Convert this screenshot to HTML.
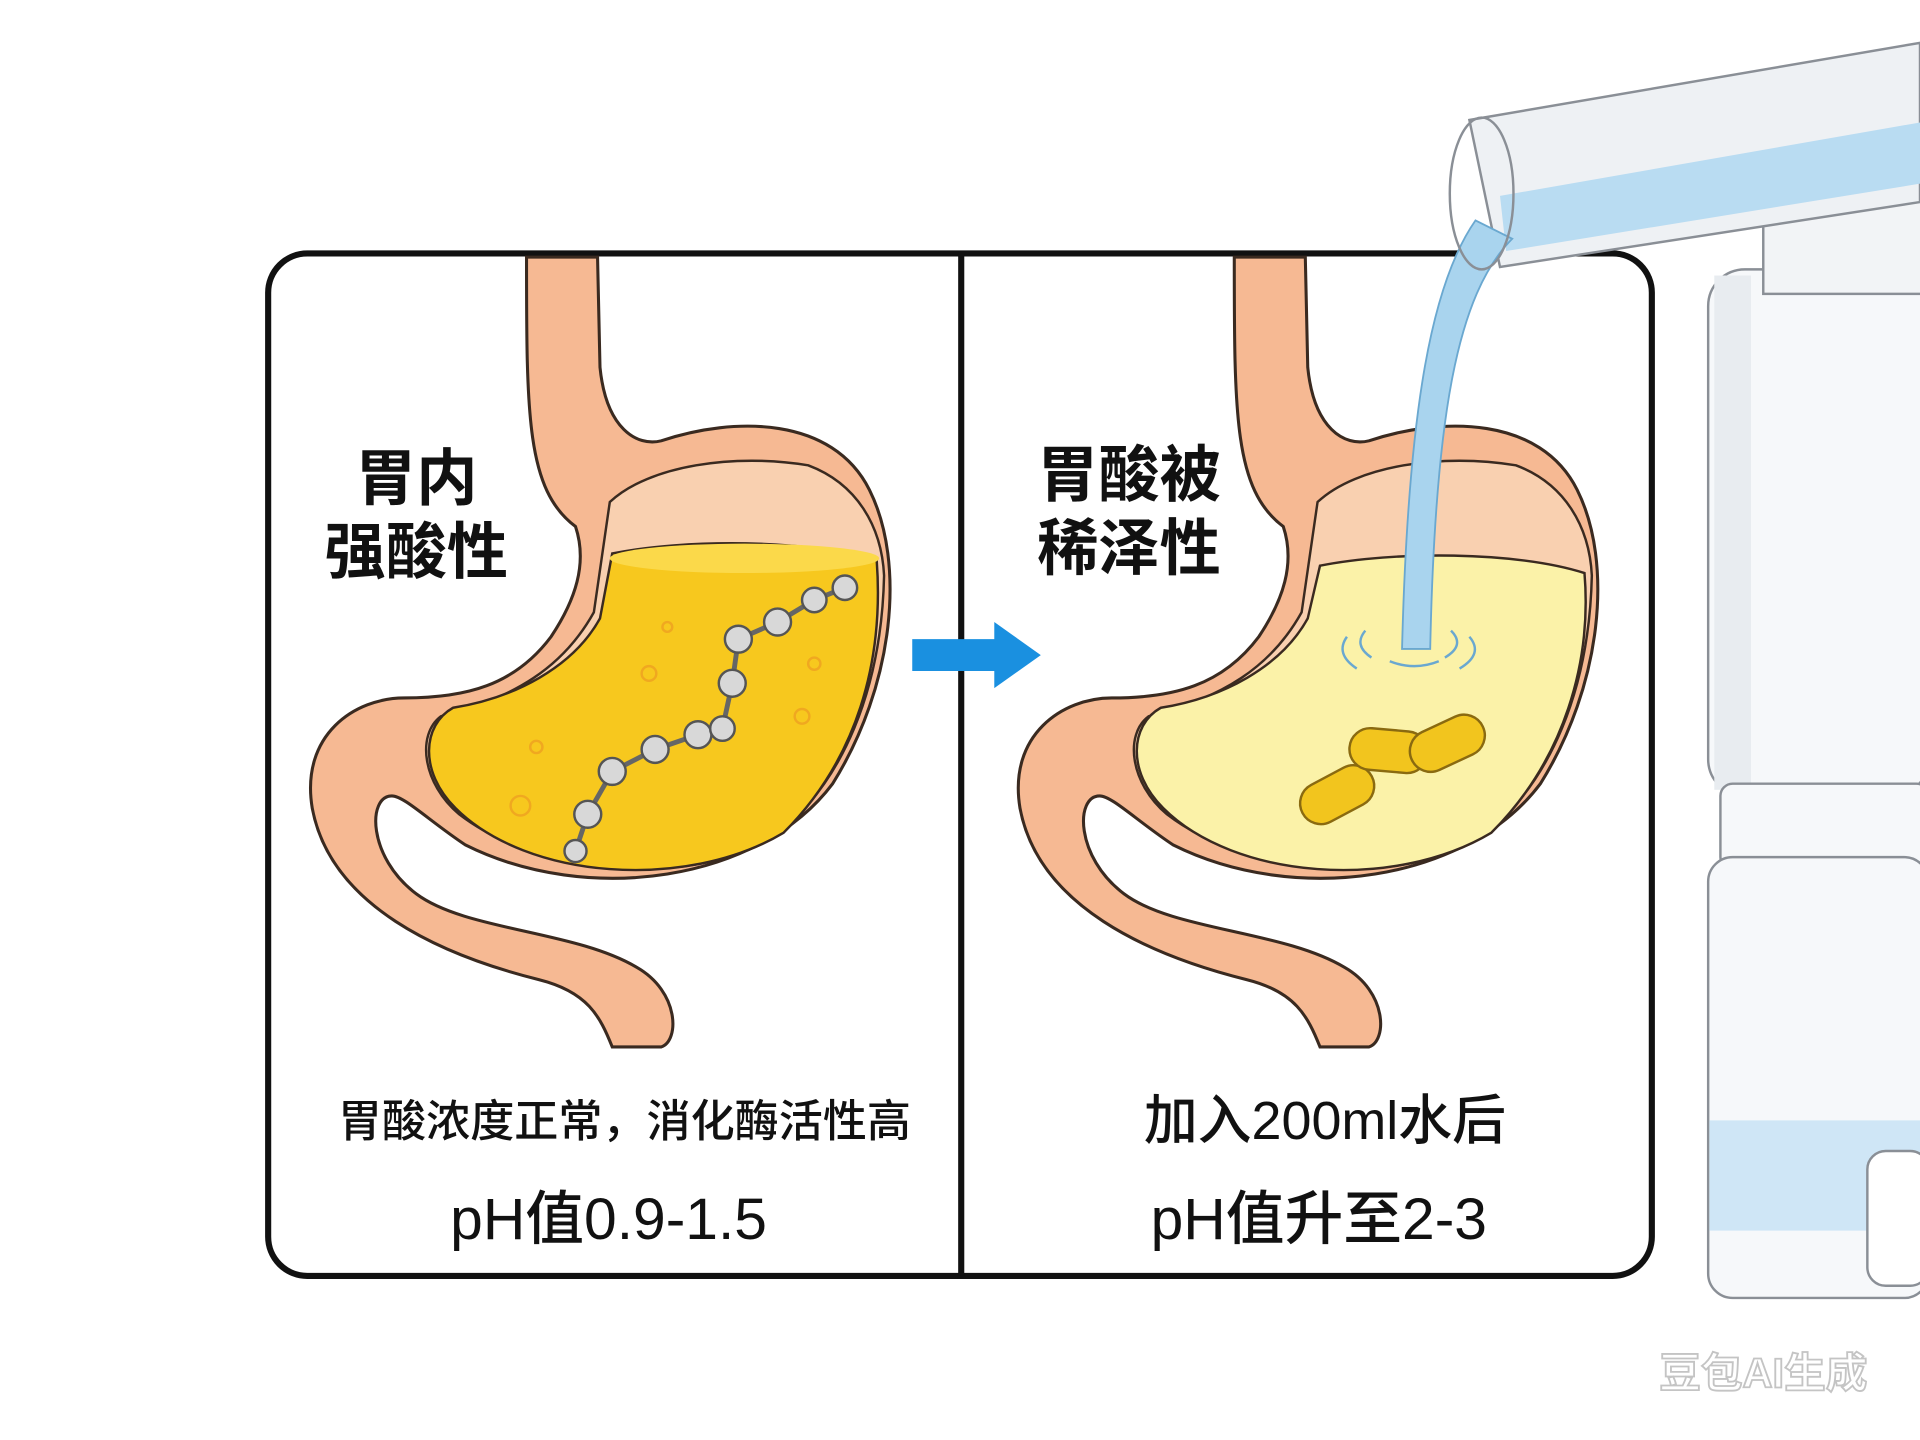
<!DOCTYPE html>
<html><head><meta charset="utf-8"><style>
html,body{margin:0;padding:0;background:#fff;width:1920px;height:1440px;overflow:hidden}
svg{display:block}
text{font-family:"Liberation Sans","Noto Sans CJK SC",sans-serif;fill:#111}
</style></head><body>
<svg width="1920" height="1440" viewBox="0 0 1568 1176" xmlns="http://www.w3.org/2000/svg">
<defs>
<g id="stom">
<path d="M430,210 L488,210 L490,300 C495,350 520,365 540,360 C600,340 680,340 710,400 C740,460 730,560 680,640 C620,720 480,740 380,690 C350,670 330,650 320,650 C300,650 300,700 340,730 C380,760 470,760 520,790 C555,810 555,850 540,855 L500,855 C490,830 480,810 440,800 C360,780 270,740 255,660 C245,600 290,570 330,570 C380,570 420,560 450,520 C470,490 480,460 470,430 C430,400 430,340 430,210 Z" fill="#f6b993" stroke="#3a2a20" stroke-width="2.5"/>
<path d="M498,410 C530,380 600,370 660,380 C700,395 720,430 722,470 C720,560 690,640 630,685 C560,725 440,715 375,665 C345,640 340,600 360,585 C420,570 460,545 485,500 Z" fill="#f9d0b0" stroke="#3a2a20" stroke-width="2"/>
</g>
</defs>
<rect x="219" y="207" width="1130" height="835" rx="32" fill="#fff" stroke="#111" stroke-width="5"/>
<line x1="785" y1="207" x2="785" y2="1042" stroke="#111" stroke-width="5"/>
<use href="#stom"/>
<path d="M500,452 C560,440 660,440 716,458 C722,540 700,620 640,680 C560,728 430,718 372,660 C342,630 345,592 370,578 C420,570 468,545 490,505 Z" fill="#f7c81e" stroke="#3a2a20" stroke-width="2"/>
<ellipse cx="608" cy="456" rx="110" ry="12" fill="#fbd94a"/>
<g fill="none" stroke="#666" stroke-width="4"><polyline points="470,695 480,665 500,630 535,612 570,600 590,595 598,558 603,522 635,508 665,490 690,480"/></g>
<g fill="#d8d8d8" stroke="#555" stroke-width="2">
<circle cx="470" cy="695" r="9"/><circle cx="480" cy="665" r="11"/><circle cx="500" cy="630" r="11"/><circle cx="535" cy="612" r="11"/><circle cx="570" cy="600" r="11"/><circle cx="590" cy="595" r="10"/><circle cx="598" cy="558" r="11"/><circle cx="603" cy="522" r="11"/><circle cx="635" cy="508" r="11"/><circle cx="665" cy="490" r="10"/><circle cx="690" cy="480" r="10"/></g>
<g fill="none" stroke="#f0a820" stroke-width="2"><circle cx="425" cy="658" r="8"/><circle cx="530" cy="550" r="6"/><circle cx="655" cy="585" r="6"/><circle cx="545" cy="512" r="4"/><circle cx="665" cy="542" r="5"/><circle cx="438" cy="610" r="5"/></g>
<use href="#stom" transform="translate(578,0)"/>
<path d="M1078,462 C1138,450 1238,450 1294,468 C1300,540 1278,620 1218,680 C1138,728 1008,718 950,660 C920,630 923,592 948,578 C998,570 1046,545 1068,505 Z" fill="#fbf2a8" stroke="#3a2a20" stroke-width="2"/>
<g fill="#f2c51e" stroke="#8a6a10" stroke-width="2">
<rect x="1060" y="632" width="64" height="34" rx="17" transform="rotate(-28 1092 649)"/>
<rect x="1102" y="596" width="64" height="34" rx="17" transform="rotate(5 1134 613)"/>
<rect x="1150" y="590" width="64" height="34" rx="17" transform="rotate(-25 1182 607)"/></g>
<g stroke="#8a8f96" stroke-width="2" fill="#f6f8fa">
<rect x="1480" y="60" width="100" height="190" fill="#eef1f4"/>
<rect x="1395" y="220" width="180" height="430" rx="30"/>
<rect x="1400" y="225" width="30" height="420" fill="#e8ecf0" stroke="none"/>
<rect x="1405" y="640" width="170" height="70" rx="10"/>
<rect x="1395" y="700" width="180" height="360" rx="20"/>
<rect x="1396" y="915" width="178" height="90" fill="#cfe6f6" stroke="none"/>
<rect x="1525" y="940" width="50" height="110" rx="15" fill="#fff"/>
<rect x="1440" y="95" width="140" height="145" fill="#f2f4f6"/>
<polygon points="1200,98 1568,35 1568,165 1225,218" fill="#eef1f4"/>
<polygon points="1225,160 1568,100 1568,150 1230,205" fill="#b9dcf2" stroke="none"/>
</g>
<path d="M1205,180 C1170,230 1150,330 1145,530 L1168,530 C1172,340 1190,240 1235,195 Z" fill="#a9d4ee" stroke="#6aa8d0" stroke-width="1.5"/>
<ellipse cx="1210" cy="158" rx="26" ry="62" fill="none" stroke="#8a8f96" stroke-width="2"/>
<g fill="none" stroke="#6aa8d0" stroke-width="2"><path d="M1115,515 q-10,12 5,22"/><path d="M1185,515 q12,12 -5,22"/><path d="M1100,520 q-10,14 8,26"/><path d="M1200,520 q12,14 -8,26"/><path d="M1135,540 q20,8 40,0"/></g>
<polygon points="745,522 812,522 812,508 850,535 812,562 812,548 745,548" fill="#1a90e0"/>
<g font-weight="bold" font-size="50" text-anchor="middle">
<text x="340" y="408">胃内</text><text x="340" y="468">强酸性</text>
<text x="922" y="405">胃酸被</text><text x="922" y="465">稀泽性</text></g>
<g font-weight="500">
<text x="510" y="928" font-size="36" text-anchor="middle">胃酸浓度正常，消化酶活性高</text>
<text x="497" y="1012" font-size="48" text-anchor="middle">pH值0.9-1.5</text>
<text x="1082" y="930" font-size="44" text-anchor="middle">加入200ml水后</text>
<text x="1077" y="1012" font-size="48" text-anchor="middle">pH值升至2-3</text>
</g>
<text x="1440" y="1133" font-size="34" font-weight="bold" text-anchor="middle" style="fill:#fff;stroke:#c4c4c4;stroke-width:1.5">豆包AI生成</text>
</svg>
</body></html>
